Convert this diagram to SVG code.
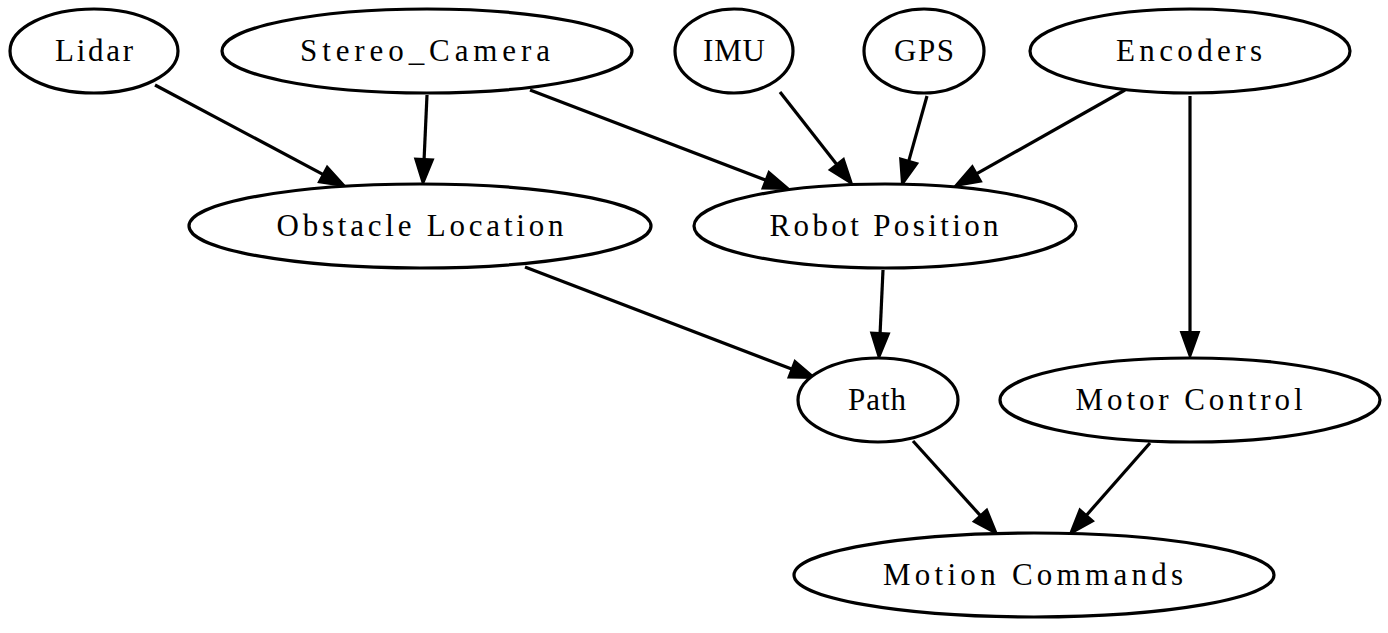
<svg xmlns="http://www.w3.org/2000/svg" width="1388" height="633" viewBox="0 0 1388 633">
<style>
.n ellipse{fill:#fff;stroke:#000;stroke-width:3.2}
.n text{font-family:"Liberation Serif","Times New Roman",serif;font-size:31px;fill:#000;text-anchor:middle}
.e line{stroke:#000;stroke-width:3.2;marker-end:url(#ah)}
</style>
<defs>
<marker id="ah" markerUnits="userSpaceOnUse" markerWidth="30" markerHeight="24" viewBox="-2 -12 30 24" refX="0" refY="0" orient="auto" overflow="visible">
<path d="M0,-9 L25,0 L0,9 Z" fill="#000" stroke="#000" stroke-width="2" stroke-linejoin="miter"/>
</marker>
</defs>
<rect width="1388" height="633" fill="#fff"/>
<g id="edges" class="e">
<line x1="155" y1="85" x2="322.9" y2="174.3"/>
<line x1="427" y1="95" x2="424.1" y2="159"/>
<line x1="530" y1="90" x2="765.6" y2="180.1"/>
<line x1="780" y1="92" x2="836.6" y2="164.3"/>
<line x1="927" y1="96" x2="908.8" y2="160.9"/>
<line x1="1125" y1="90" x2="976.8" y2="173.7"/>
<line x1="1190" y1="96" x2="1190" y2="332"/>
<line x1="525" y1="267" x2="791.6" y2="369.1"/>
<line x1="883" y1="270" x2="880.1" y2="333"/>
<line x1="913" y1="441" x2="980.2" y2="515.4"/>
<line x1="1150" y1="443" x2="1086.5" y2="515.2"/>
</g>
<g id="lidar" class="n"><ellipse cx="94" cy="51" rx="84" ry="42"/><text x="94" y="61" textLength="78" lengthAdjust="spacing">Lidar</text></g>
<g id="stereo_camera" class="n"><ellipse cx="427" cy="51" rx="205" ry="42"/><text x="425" y="61" textLength="250" lengthAdjust="spacing">Stereo_Camera</text></g>
<g id="imu" class="n"><ellipse cx="734" cy="51" rx="59" ry="42"/><text x="734" y="61" textLength="62" lengthAdjust="spacing">IMU</text></g>
<g id="gps" class="n"><ellipse cx="924" cy="51" rx="60" ry="42"/><text x="924" y="61" textLength="60" lengthAdjust="spacing">GPS</text></g>
<g id="encoders" class="n"><ellipse cx="1190" cy="51" rx="160" ry="42"/><text x="1189" y="61" textLength="146" lengthAdjust="spacing">Encoders</text></g>
<g id="obstacle_location" class="n"><ellipse cx="420" cy="226" rx="231" ry="42"/><text x="420" y="236" textLength="287" lengthAdjust="spacing">Obstacle Location</text></g>
<g id="robot_position" class="n"><ellipse cx="885" cy="226" rx="191" ry="42"/><text x="884" y="236" textLength="229" lengthAdjust="spacing">Robot Position</text></g>
<g id="path" class="n"><ellipse cx="878" cy="400" rx="80" ry="42"/><text x="877" y="410" textLength="58" lengthAdjust="spacing">Path</text></g>
<g id="motor_control" class="n"><ellipse cx="1190" cy="400" rx="190" ry="42"/><text x="1189" y="410" textLength="227" lengthAdjust="spacing">Motor Control</text></g>
<g id="motion_commands" class="n"><ellipse cx="1034" cy="575" rx="240" ry="42"/><text x="1033" y="585" textLength="300" lengthAdjust="spacing">Motion Commands</text></g>
</svg>
